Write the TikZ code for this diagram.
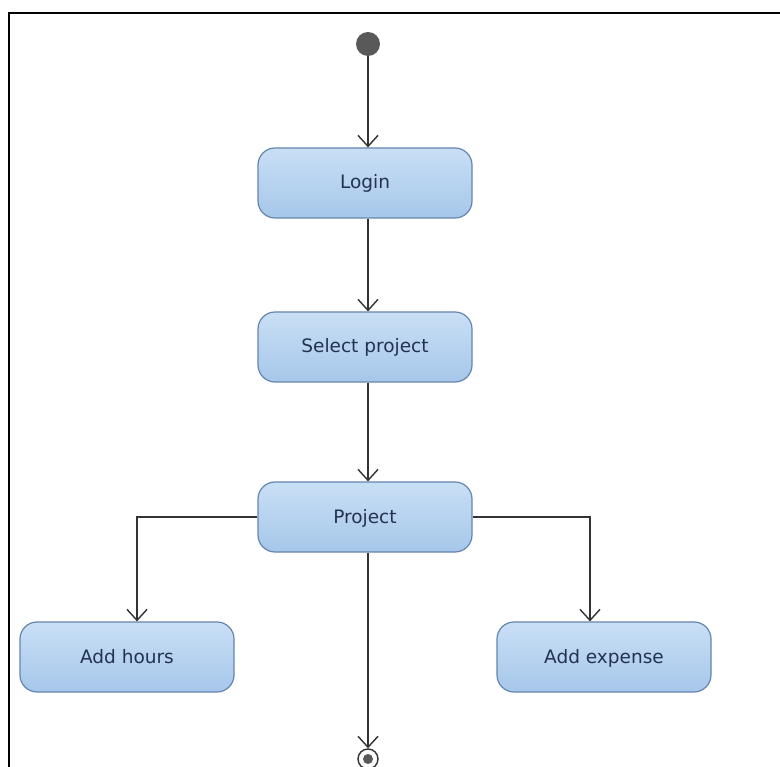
\documentclass[tikz,border=0pt]{standalone}
\usepackage{fontspec}
\setmainfont{DejaVu Sans}
\usetikzlibrary{arrows.meta}
\definecolor{boxtop}{HTML}{C9DFF5}
\definecolor{boxbot}{HTML}{A6C7EA}
\definecolor{boxline}{HTML}{6585AE}
\definecolor{txt}{HTML}{233250}
\definecolor{lin}{HTML}{333333}
\tikzset{
  act/.style={rectangle, rounded corners=17pt, minimum width=214pt, minimum height=70pt,
    draw=boxline, line width=1.2pt, top color=boxtop, bottom color=boxbot,
    text=txt, font=\fontsize{18.5}{22}\selectfont, inner sep=0pt,
    text height=14.5pt, text depth=2.5pt},
  flow/.style={draw=lin, line width=1.6pt, -{Straight Barb[length=11pt,width=20pt,line width=1.4pt]}},
}
\begin{document}
\begin{tikzpicture}[x=1pt,y=-1pt]
\useasboundingbox (0,0) rectangle (780,767);
\fill[white] (0,0) rectangle (780,767);
\draw[line width=2.2pt, black] (9,780) -- (9,13) -- (790,13);
\node[circle, fill=black!65, minimum size=24pt, inner sep=0pt] (start) at (368,44) {};
\node[act] (login) at (365,183) {Login};
\node[act] (select) at (365,347) {Select project};
\node[act] (project) at (365,517) {Project};
\node[act] (hours) at (127,657) {Add hours};
\node[act] (expense) at (604,657) {Add expense};
\node[circle, draw=lin, line width=1.4pt, fill=white, minimum size=20pt, inner sep=0pt] (end) at (368,759) {};
\fill[black!65] (end.center) circle (5pt);
\coordinate (lturn) at (137,517);
\coordinate (rturn) at (590,517);
\draw[flow] (start) -- (start |- login.north);
\draw[flow] (login.south -| start) -- (start |- select.north);
\draw[flow] (select.south -| start) -- (start |- project.north);
\draw[flow] (project.west) -- (lturn) -- (lturn |- hours.north);
\draw[flow] (project.east) -- (rturn) -- (rturn |- expense.north);
\draw[flow] (project.south -| start) -- (end.north);
\end{tikzpicture}
\end{document}
